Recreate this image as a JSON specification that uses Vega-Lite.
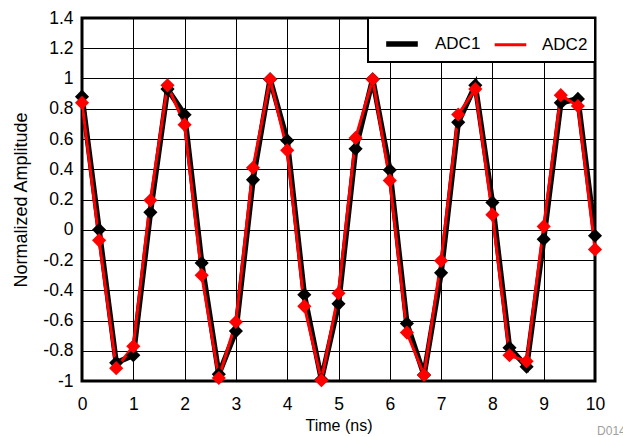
{
  "$schema": "https://vega.github.io/schema/vega-lite/v6.json",
  "width": 513,
  "height": 363,
  "autosize": {"type": "none"},
  "padding": {"left": 82, "top": 18, "right": 28, "bottom": 56},
  "background": "white",
  "title": {"text": "D014", "orient": "bottom", "anchor": "end", "fontSize": 12, "color": "#a0a0a0", "font": "Liberation Sans", "fontWeight": "normal", "offset": -8, "dx": 21},
  "config": {
    "font": "Liberation Sans",
    "view": {"stroke": "black", "strokeWidth": 3},
    "axis": {"gridColor": "black", "gridOpacity": 1, "gridWidth": 1, "domain": false, "ticks": false, "labelColor": "black", "titleFontWeight": "normal", "titleColor": "black", "labelFont": "Liberation Sans", "titleFont": "Liberation Sans", "labelFlush": false},
    "legend": {"strokeWidth": 2}
  },
  "data": {"values": [
    {"t": 0.0, "series": "ADC1", "v": 0.88}, {"t": 0.3333, "series": "ADC1", "v": 0.0}, {"t": 0.6667, "series": "ADC1", "v": -0.88}, {"t": 1.0, "series": "ADC1", "v": -0.83}, {"t": 1.3333, "series": "ADC1", "v": 0.115}, {"t": 1.6667, "series": "ADC1", "v": 0.93}, {"t": 2.0, "series": "ADC1", "v": 0.76}, {"t": 2.3333, "series": "ADC1", "v": -0.22}, {"t": 2.6667, "series": "ADC1", "v": -0.955}, {"t": 3.0, "series": "ADC1", "v": -0.67}, {"t": 3.3333, "series": "ADC1", "v": 0.33}, {"t": 3.6667, "series": "ADC1", "v": 0.995}, {"t": 4.0, "series": "ADC1", "v": 0.59}, {"t": 4.3333, "series": "ADC1", "v": -0.43}, {"t": 4.6667, "series": "ADC1", "v": -0.99}, {"t": 5.0, "series": "ADC1", "v": -0.49}, {"t": 5.3333, "series": "ADC1", "v": 0.535}, {"t": 5.6667, "series": "ADC1", "v": 0.995}, {"t": 6.0, "series": "ADC1", "v": 0.395}, {"t": 6.3333, "series": "ADC1", "v": -0.62}, {"t": 6.6667, "series": "ADC1", "v": -0.96}, {"t": 7.0, "series": "ADC1", "v": -0.285}, {"t": 7.3333, "series": "ADC1", "v": 0.71}, {"t": 7.6667, "series": "ADC1", "v": 0.955}, {"t": 8.0, "series": "ADC1", "v": 0.18}, {"t": 8.3333, "series": "ADC1", "v": -0.78}, {"t": 8.6667, "series": "ADC1", "v": -0.905}, {"t": 9.0, "series": "ADC1", "v": -0.062}, {"t": 9.3333, "series": "ADC1", "v": 0.84}, {"t": 9.6667, "series": "ADC1", "v": 0.865}, {"t": 10.0, "series": "ADC1", "v": -0.04},
    {"t": 0.0, "series": "ADC2", "v": 0.84}, {"t": 0.3333, "series": "ADC2", "v": -0.07}, {"t": 0.6667, "series": "ADC2", "v": -0.915}, {"t": 1.0, "series": "ADC2", "v": -0.77}, {"t": 1.3333, "series": "ADC2", "v": 0.195}, {"t": 1.6667, "series": "ADC2", "v": 0.955}, {"t": 2.0, "series": "ADC2", "v": 0.695}, {"t": 2.3333, "series": "ADC2", "v": -0.3}, {"t": 2.6667, "series": "ADC2", "v": -0.98}, {"t": 3.0, "series": "ADC2", "v": -0.61}, {"t": 3.3333, "series": "ADC2", "v": 0.41}, {"t": 3.6667, "series": "ADC2", "v": 0.995}, {"t": 4.0, "series": "ADC2", "v": 0.525}, {"t": 4.3333, "series": "ADC2", "v": -0.505}, {"t": 4.6667, "series": "ADC2", "v": -0.995}, {"t": 5.0, "series": "ADC2", "v": -0.42}, {"t": 5.3333, "series": "ADC2", "v": 0.607}, {"t": 5.6667, "series": "ADC2", "v": 0.995}, {"t": 6.0, "series": "ADC2", "v": 0.325}, {"t": 6.3333, "series": "ADC2", "v": -0.68}, {"t": 6.6667, "series": "ADC2", "v": -0.96}, {"t": 7.0, "series": "ADC2", "v": -0.205}, {"t": 7.3333, "series": "ADC2", "v": 0.762}, {"t": 7.6667, "series": "ADC2", "v": 0.93}, {"t": 8.0, "series": "ADC2", "v": 0.1}, {"t": 8.3333, "series": "ADC2", "v": -0.83}, {"t": 8.6667, "series": "ADC2", "v": -0.87}, {"t": 9.0, "series": "ADC2", "v": 0.022}, {"t": 9.3333, "series": "ADC2", "v": 0.89}, {"t": 9.6667, "series": "ADC2", "v": 0.818}, {"t": 10.0, "series": "ADC2", "v": -0.13}
  ]},
  "encoding": {
    "x": {"field": "t", "type": "quantitative", "scale": {"domain": [0, 10], "nice": false, "zero": false}, "axis": {"values": [0,1,2,3,4,5,6,7,8,9,10], "title": "Time (ns)", "labelFontSize": 17.5, "titleFontSize": 16, "labelPadding": 14, "titlePadding": 5}},
    "y": {"field": "v", "type": "quantitative", "scale": {"domain": [-1, 1.4], "nice": false}, "axis": {"values": [-1,-0.8,-0.6,-0.4,-0.2,0,0.2,0.4,0.6,0.8,1,1.2,1.4], "format": "~g", "labelExpr": "replace(datum.label, '\u2212', '-')", "title": "Normalized Amplitude", "labelFontSize": 17.5, "titleFontSize": 18, "labelPadding": 9, "titlePadding": 12}}
  },
  "layer": [
    {
      "mark": {"type": "line", "strokeJoin": "miter", "clip": true},
      "encoding": {
        "color": {"field": "series", "type": "nominal", "scale": {"domain": ["ADC1", "ADC2"], "range": ["black", "#ff0000"]}, "legend": {"title": null, "orient": "top-right", "direction": "horizontal", "offset": 0, "symbolType": "stroke", "symbolSize": 1000, "labelFontSize": 17, "labelColor": "black", "strokeColor": "black", "fillColor": "white", "padding": 7, "columnPadding": 4, "symbolOffset": 8, "labelOffset": 14}},
        "strokeWidth": {"field": "series", "type": "nominal", "scale": {"domain": ["ADC1", "ADC2"], "range": [5.5, 3]}, "legend": {"title": null, "orient": "top-right", "direction": "horizontal"}},
        "order": {"field": "series"}
      }
    },
    {
      "mark": {"type": "point", "shape": "diamond", "filled": true, "opacity": 1, "size": 200},
      "encoding": {
        "color": {"field": "series", "type": "nominal", "legend": null},
        "order": {"field": "series"}
      }
    }
  ]
}
